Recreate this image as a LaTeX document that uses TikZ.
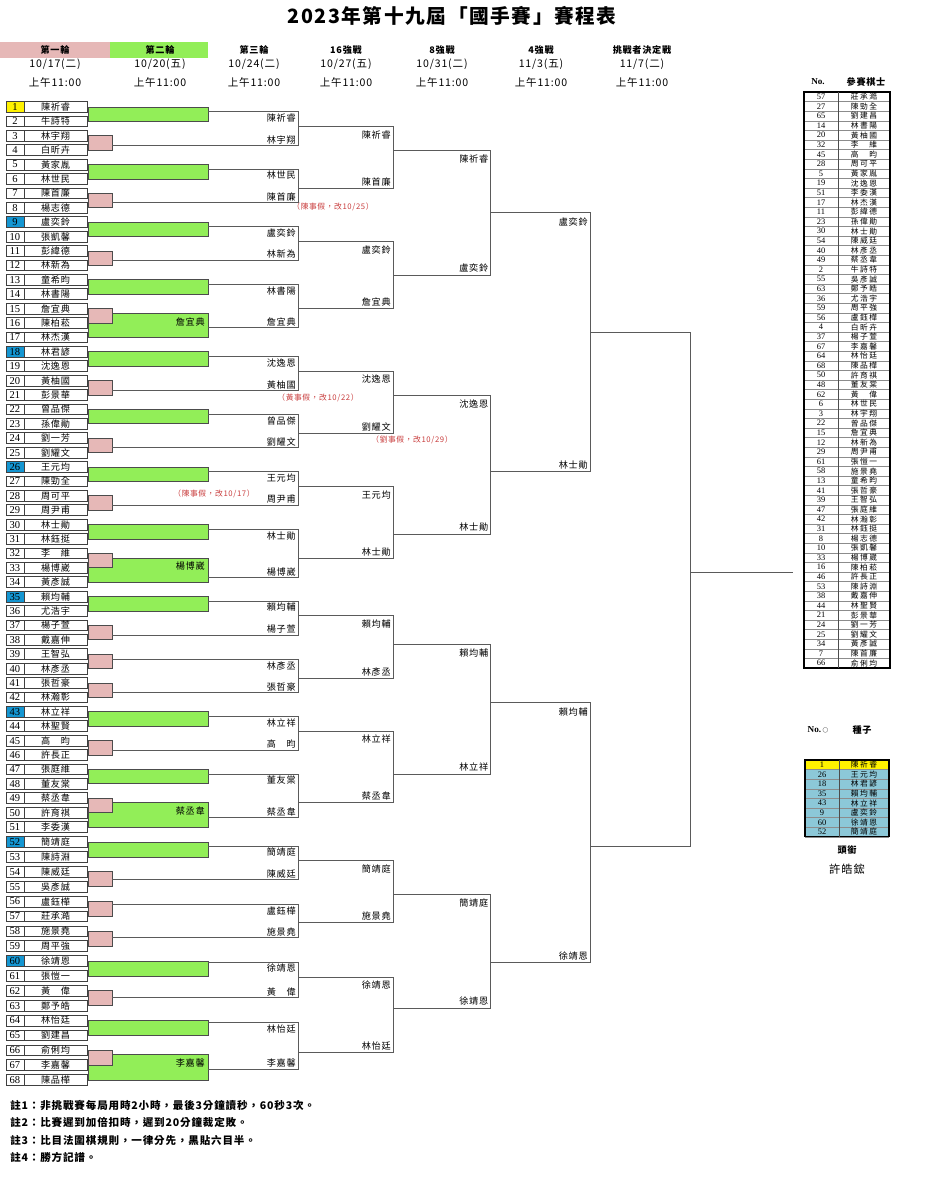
\documentclass[tikz,border=0pt]{standalone}
\usepackage{fontspec}
\setmainfont{Liberation Serif}
\newfontfamily\cjk[LetterSpace=8]{Noto Sans CJK TC}
\newfontfamily\cjklist[LetterSpace=20]{Noto Sans CJK TC}
\usepackage{xcolor}
\usetikzlibrary{positioning}
\definecolor{barGreen}{RGB}{146,238,88}
\definecolor{barPink}{RGB}{230,184,183}
\definecolor{seedBlue}{RGB}{20,150,210}
\definecolor{seedLight}{RGB}{140,200,216}
\definecolor{noteRed}{RGB}{200,60,60}
\definecolor{lineGray}{RGB}{90,90,90}

\begin{document}
\begin{tikzpicture}[x=0.025cm, y=-0.025cm,
        declare function={ry(\i)=(\i<52)*(107+(\i-1)*14.4)+(\i>51)*(842+(\i-52)*14.875);},
        numbox/.style={draw=black!75, line width=0.5pt, minimum width=0.45cm, minimum height=0.27cm, inner sep=0pt, font=\fontsize{7.5}{8}\selectfont},
        namebox/.style={draw=black!75, line width=0.5pt, minimum width=1.575cm, minimum height=0.27cm, inner sep=0pt, font=\cjk\fontsize{6.5}{7}\selectfont},
        gbar/.style={draw=black!70, line width=0.5pt, fill=barGreen},
        pbar/.style={draw=black!70, line width=0.5pt, fill=barPink},
        bline/.style={draw=lineGray, line width=0.6pt},
        rlab/.style={anchor=east, inner sep=0pt, font=\cjk\fontsize{6.5}{7}\selectfont},
        note/.style={inner sep=0pt, text=noteRed, font=\cjk\fontsize{5.5}{6}\selectfont},
        head/.style={inner sep=0pt, font=\cjk\bfseries\fontsize{6.5}{7}\selectfont},
        date/.style={inner sep=0pt, font=\cjk\fontsize{7.5}{8}\selectfont},
        listnum/.style={inner sep=0pt, font=\fontsize{6}{6}\selectfont},
        listname/.style={inner sep=0pt, font=\cjklist\fontsize{5.5}{6}\selectfont},
        remark/.style={anchor=west, inner sep=0pt, font=\cjk\bfseries\fontsize{7.5}{8}\selectfont}
    ]
    \useasboundingbox (0,0) rectangle (937,1200);

    % title and round headers
    \node[inner sep=0pt, font=\cjk\bfseries\fontsize{14}{15}\selectfont] (title) at (452,16) {2023年第十九屆「國手賽」賽程表};
    \fill[barPink] (0,42) rectangle (110,58);
    \fill[barGreen] (110,42) rectangle (208,58);
    \foreach \x/\r/\m/\d [count=\k] in {55/第一輪/10/17(二),160/第二輪/10/20(五),254/第三輪/10/24(二),346/16強戰/10/27(五),442/8強戰/10/31(二),541/4強戰/11/3(五),642/挑戰者決定戰/11/7(二)}{
        \node[head] (round\k) at (\x,50) {\r};
        \node[date] (day\k) at (\x,64) {\m/\d};
        \node[date] (time\k) at (\x,82) {上午11:00};
    }

    % seed colours behind the numbers
    \fill[yellow] (6,{ry(1)-5.4}) rectangle (24,{ry(1)+5.4});
    \foreach \s in {9,18,26,35,43,52,60}
        \fill[seedBlue] (6,{ry(\s)-5.4}) rectangle (24,{ry(\s)+5.4});

    % players
    \foreach \nm [count=\i] in {陳祈睿,牛詩特,林宇翔,白昕卉,黃家胤,林世民,陳首廉,楊志德,盧奕鈴,張凱馨,彭緯德,林新為,童希昀,林書陽,詹宜典,陳柏菘,林杰漢,
        林君諺,沈逸恩,黃柚國,彭景華,曾品傑,孫偉勛,劉一芳,劉耀文,王元均,陳勁全,周可平,周尹甫,林士勛,林鈺挺,李　維,楊博崴,黃彥誠,
        賴均輔,尤浩宇,楊子萱,戴嘉伸,王智弘,林彥丞,張哲豪,林瀚彰,林立祥,林聖賢,高　昀,許長正,張庭維,董友棠,蔡丞韋,許育祺,李委漢,
        簡靖庭,陳詩淵,陳威廷,吳彥誠,盧鈺樺,莊承澔,施景堯,周平強,徐靖恩,張愷一,黃　偉,鄭予皓,林怡廷,劉建昌,俞俐均,李嘉馨,陳品樺}{
        \node[numbox] (n\i) at (15,{ry(\i)}) {\i};
        \node[namebox] (p\i) at (55.5,{ry(\i)}) {\nm};
    }

    % first and second round bars
    \foreach \a in {15,32,49,66}
        \draw[gbar] (88,{ry(\a)+4.5}) rectangle (208,{ry(\a+2)});
    \foreach \a in {1,5,9,13,18,22,26,30,35,43,47,52,60,64}
        \draw[gbar] (88,{ry(\a)}) rectangle (208,{ry(\a+1)});
    \foreach \a in {3,7,11,15,20,24,28,32,37,39,41,45,49,54,56,58,62,66}
        \draw[pbar] (88,{ry(\a)}) rectangle (112,{ry(\a+1)});
    \foreach \a/\w in {15/詹宜典,32/楊博崴,49/蔡丞韋,66/李嘉馨}
        \node[rlab] (w\a) at (205,{ry(\a)+13}) {\w};

    % third round
    \foreach \t/\b/\tx/\bx/\ta/\ba [count=\k] in {111.7/145.7/208/112/陳祈睿/林宇翔,169/202.7/208/112/林世民/陳首廉,
        226.7/260/208/112/盧奕鈴/林新為,284.3/327.3/208/208/林書陽/詹宜典,356.7/390.3/208/112/沈逸恩/黃柚國,
        414.3/447.7/208/112/曾品傑/劉耀文,471.7/505/208/112/王元均/周尹甫,529.3/577.3/208/208/林士勛/楊博崴,
        601/635/208/112/賴均輔/楊子萱,659/692.3/112/112/林彥丞/張哲豪,716/750/208/112/林立祥/高　昀,
        774/817.3/208/208/董友棠/蔡丞韋,846/879.3/208/112/簡靖庭/陳威廷,904/937.3/112/112/盧鈺樺/施景堯,
        962/997.3/208/112/徐靖恩/黃　偉,1022.7/1069/208/208/林怡廷/李嘉馨}{
        \draw[bline] (\tx,\t) -| (298,\b) -- (\bx,\b);
        \node[rlab] (r3t\k) at (296,{\t+6.5}) {\ta};
        \node[rlab] (r3b\k) at (296,{\b-5.5}) {\ba};
    }

    % last 16
    \foreach \t/\b/\ta/\ba [count=\k] in {126.7/188.3/陳祈睿/陳首廉,241.7/308.3/盧奕鈴/詹宜典,371/433.3/沈逸恩/劉耀文,
        486.7/558.3/王元均/林士勛,615.7/678.3/賴均輔/林彥丞,731/802.7/林立祥/蔡丞韋,860.7/922.7/簡靖庭/施景堯,977.3/1052.3/徐靖恩/林怡廷}{
        \draw[bline] (298,\t) -| (393,\b) -- (298,\b);
        \node[rlab] (r4t\k) at (391,{\t+8}) {\ta};
        \node[rlab] (r4b\k) at (391,{\b-6.5}) {\ba};
    }

    % last 8
    \foreach \t/\b/\ta/\ba [count=\k] in {150/275/陳祈睿/盧奕鈴,395/534.3/沈逸恩/林士勛,644.3/774.3/賴均輔/林立祥,894.3/1008.3/簡靖庭/徐靖恩}{
        \draw[bline] (393,\t) -| (490.7,\b) -- (393,\b);
        \node[rlab] (r5t\k) at (488.5,{\t+9}) {\ta};
        \node[rlab] (r5b\k) at (488.5,{\b-7}) {\ba};
    }

    % last 4
    \foreach \t/\b/\ta/\ba [count=\k] in {212.3/471.7/盧奕鈴/林士勛,702.3/962.3/賴均輔/徐靖恩}{
        \draw[bline] (490.7,\t) -| (590,\b) -- (490.7,\b);
        \node[rlab] (r6t\k) at (588,{\t+10}) {\ta};
        \node[rlab] (r6b\k) at (588,{\b-6.7}) {\ba};
    }

    % challenger final
    \coordinate (final) at (793,572);
    \draw[bline] (590,332.3) -| (690,846.7) -- (590,846.7);
    \draw[bline] (690,572) -- (final);

    % postponed games
    \node[note] (leave1) at (333,207) {（陳事假，改10/25）};
    \node[note] (leave2) at (318,397.5) {（黃事假，改10/22）};
    \node[note] (leave3) at (412,440) {（劉事假，改10/29）};
    \node[note] (leave4) at (214,493.5) {（陳事假，改10/17）};

    % list of entrants
    \node[inner sep=0pt, font=\bfseries\fontsize{6.5}{7}\selectfont] (listno) at (818,82) {No.};
    \node[head] (listhd) at (866,82) {參賽棋士};
    \foreach \n/\nm [count=\k] in {57/莊承澔,27/陳勁全,65/劉建昌,14/林書陽,20/黃柚國,32/李　維,45/高　昀,28/周可平,5/黃家胤,19/沈逸恩,
        51/李委漢,17/林杰漢,11/彭緯德,23/孫偉勛,30/林士勛,54/陳威廷,40/林彥丞,49/蔡丞韋,2/牛詩特,55/吳彥誠,
        63/鄭予皓,36/尤浩宇,59/周平強,56/盧鈺樺,4/白昕卉,37/楊子萱,67/李嘉馨,64/林怡廷,68/陳品樺,50/許育祺,
        48/董友棠,62/黃　偉,6/林世民,3/林宇翔,22/曾品傑,15/詹宜典,12/林新為,29/周尹甫,61/張愷一,58/施景堯,
        13/童希昀,41/張哲豪,39/王智弘,47/張庭維,42/林瀚彰,31/林鈺挺,8/楊志德,10/張凱馨,33/楊博崴,16/陳柏菘,
        46/許長正,53/陳詩淵,38/戴嘉伸,44/林聖賢,21/彭景華,24/劉一芳,25/劉耀文,34/黃彥誠,7/陳首廉,66/俞俐均}{
        \draw[black!45, line width=0.3pt] (804,{92+\k*9.6}) -- (890,{92+\k*9.6});
        \node[listnum] (ln\k) at (821,{87.2+\k*9.6}) {\n};
        \node[listname] (lp\k) at (864,{87.2+\k*9.6}) {\nm};
    }
    \draw[black, line width=0.8pt] (804,92) rectangle (890,668);
    \draw[black!70, line width=0.5pt] (838,92) -- (838,668);

    % seeds
    \node[inner sep=0pt, font=\bfseries\fontsize{6.5}{7}\selectfont] (seedno) at (818,730) {No.\,{\cjk\fontsize{4}{4}\selectfont ○}};
    \node[head] (seedhd) at (862,730) {種子};
    \fill[yellow] (805,760) rectangle (889,769.6);
    \fill[seedLight] (805,769.6) rectangle (889,836.8);
    \foreach \n/\nm [count=\k] in {1/陳祈睿,26/王元均,18/林君諺,35/賴均輔,43/林立祥,9/盧奕鈴,60/徐靖恩,52/簡靖庭}{
        \draw[black!45, line width=0.3pt] (805,{760+\k*9.6}) -- (889,{760+\k*9.6});
        \node[listnum] (sn\k) at (822,{755.2+\k*9.6}) {\n};
        \node[listname] (sp\k) at (864,{755.2+\k*9.6}) {\nm};
    }
    \draw[black, line width=0.8pt] (805,760) rectangle (889,836.8);
    \draw[black!70, line width=0.5pt] (839,760) -- (839,836.8);
    \node[head] (holder) at (847,850) {頭銜};
    \node[inner sep=0pt, font=\cjk\fontsize{8}{9}\selectfont] (holdername) at (847,869) {許皓鋐};

    % remarks
    \node[remark] (rem1) at (10,1105) {註1：非挑戰賽每局用時2小時，最後3分鐘讀秒，60秒3次。};
    \node[remark] (rem2) at (10,1122.5) {註2：比賽遲到加倍扣時，遲到20分鐘裁定敗。};
    \node[remark] (rem3) at (10,1140) {註3：比目法圍棋規則，一律分先，黑貼六目半。};
    \node[remark] (rem4) at (10,1157) {註4：勝方記譜。};
\end{tikzpicture}
\end{document}
